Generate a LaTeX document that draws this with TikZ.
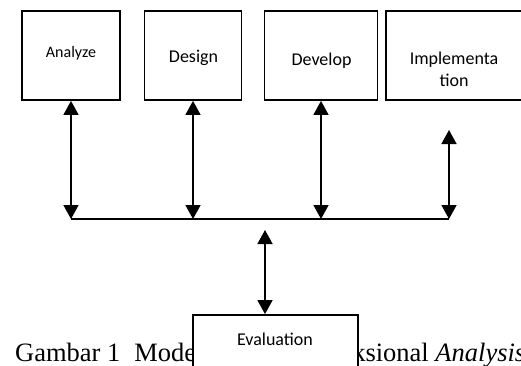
\documentclass[tikz,border=0pt]{standalone}
\usepackage{fontspec}
\setmainfont{Carlito}
\newfontfamily\capfont{Liberation Serif}
\usetikzlibrary{arrows.meta}
\tikzset{
  box/.style={draw, line width=1.8pt, fill=white, inner sep=0pt},
  dbl/.style={line width=1.6pt, {Triangle[width=15pt,length=14pt]}-{Triangle[width=15pt,length=14pt]}},
  boxtext/.style={font=\fontsize{18}{22}\selectfont, align=center, inner sep=0pt}
}
\begin{document}
\begin{tikzpicture}[x=1pt,y=-1pt]
      \useasboundingbox (0,0) rectangle (521,365);
      \clip (0,0) rectangle (521,365);
      % top row of boxes
      \foreach \n/\cx/\w in {ana/71/98, des/193/97, dev/321/113, imp/463/154}
      {
        \node[box, minimum width=\w, minimum height=89] (\n) at (\cx,55.5) {};
      }
      \node[boxtext, font=\fontsize{16}{20}\selectfont] (anaT) at (71,53) {Analyze};
      \node[boxtext] (desT) at (193.5,58) {Design};
      \node[boxtext] (devT) at (321.5,61) {Develop};
      \node[boxtext] (impT) at (454,69) {Implementa\\tion};
      % bus line
      \foreach \n/\x in {bA/71, bD/193, bV/321, bI/449}
      {
        \coordinate (\n) at (\x,219);
      }
      \coordinate (impEnd) at (449,130);
      \draw[line width=1.3pt] (bA) -- (bI);
      \draw[dbl] (ana.south) -- (bA);
      \draw[dbl] (des.south) -- (bD);
      \draw[dbl] (dev.south) -- (bV);
      \draw[dbl] (impEnd) -- (bI);
      % caption, partly hidden
      \node[anchor=base west, inner sep=0pt, font=\capfont\fontsize{26.5}{30}\selectfont] (cap) at (15,361)
        {Gambar 1\hspace{14pt}Model Desain Instruksional \textit{Analysis}};
      \node[box, minimum width=165, minimum height=100] (eva) at (275.5,365) {};
      \node[boxtext] (evaT) at (275,339) {Evaluation};
      \coordinate (evaEnd) at (265,230);
      \draw[dbl] (evaEnd) -- (evaEnd |- eva.north);
    \end{tikzpicture}
\end{document}
